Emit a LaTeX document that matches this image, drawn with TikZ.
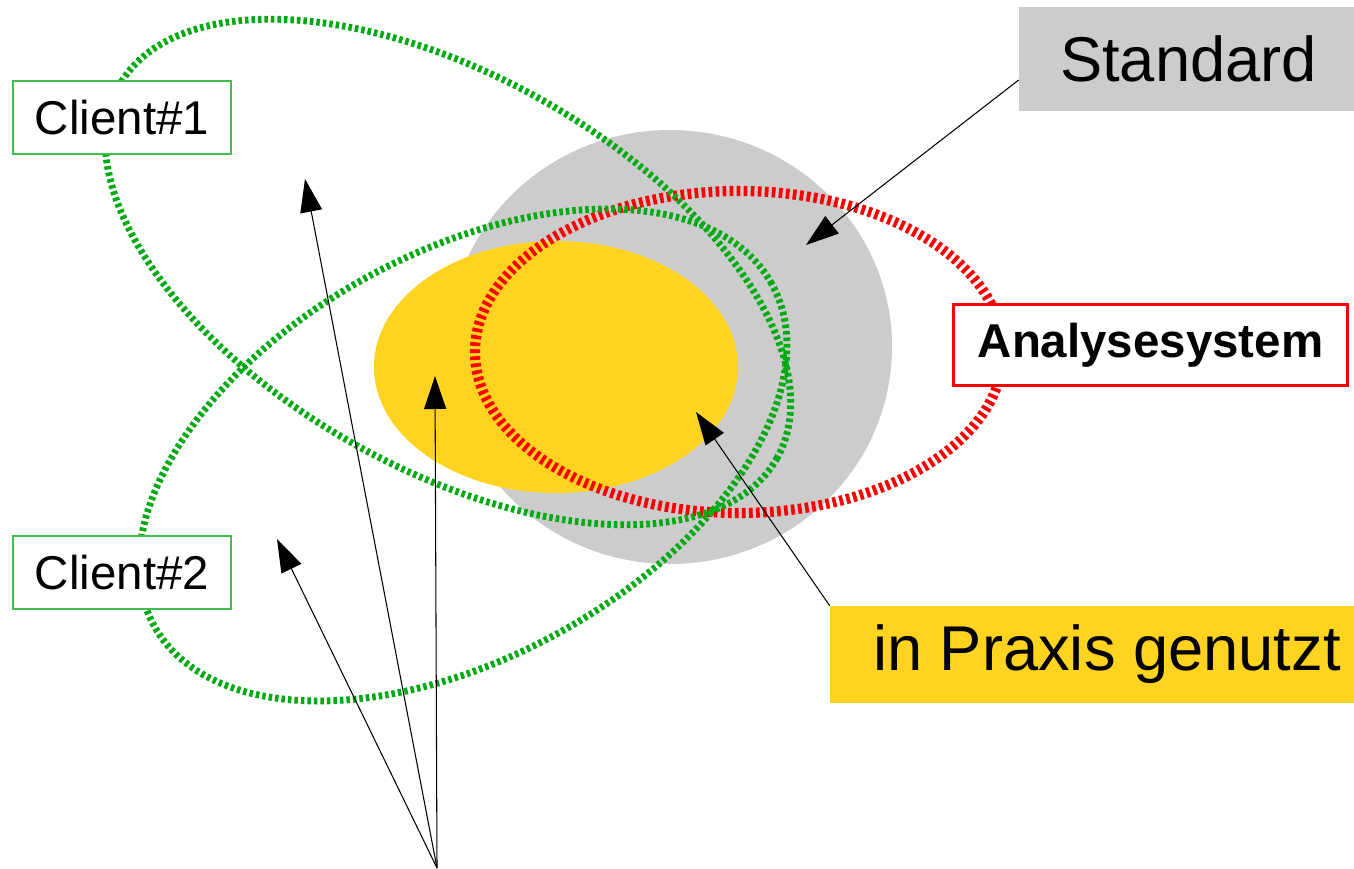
\documentclass[tikz,border=0pt]{standalone}
\usepackage{fontspec}
\setmainfont{Liberation Sans}
\usepackage{xcolor}
\usepackage{tikz}
\usetikzlibrary{arrows.meta}
\definecolor{venngraycol}{HTML}{CCCCCC}
\definecolor{vennyellowcol}{HTML}{FFD320}
\definecolor{venngreencol}{HTML}{00AA11}
\definecolor{vennredcol}{HTML}{FF0000}
\tikzset{
  vennpicture/.style={x=0.2mm, y=-0.2mm},
  vennclient/.style={draw=venngreencol!75, line width=0.6pt, fill=white, inner sep=0pt, minimum width=43.6mm, minimum height=14.6mm, font=\fontsize{27pt}{32pt}\selectfont},
  vennstandard/.style={fill=venngraycol, inner sep=0pt, minimum width=67.8mm, minimum height=20.8mm, font=\fontsize{36pt}{42pt}\selectfont},
  vennsystem/.style={draw=vennredcol, line width=1.7pt, fill=white, inner sep=0pt, minimum width=78.8mm, minimum height=16.2mm, font=\fontsize{27pt}{32pt}\selectfont\bfseries},
  vennpraxis/.style={fill=vennyellowcol, inner sep=0pt, minimum width=110.8mm, minimum height=19.4mm, font=\fontsize{36pt}{42pt}\selectfont},
  venngreen/.style={draw=venngreencol, line width=3.9pt, dash pattern=on 2pt off 1.7pt},
  vennred/.style={draw=vennredcol, line width=5.8pt, dash pattern=on 2.1pt off 1.9pt},
  vennarrow/.style={-{Triangle[length=6.6mm, width=4.4mm]}, line width=0.6pt}
}
\begin{document}
\begin{tikzpicture}[vennpicture]
\useasboundingbox (0,0) rectangle (1354,869);
\clip (0,0) rectangle (1354,869);
\fill[venngraycol] (670,347) ellipse [x radius=44.4mm, y radius=43.4mm];
\fill[vennyellowcol] (556,367) ellipse [x radius=36.4mm, y radius=25.2mm];
\draw[vennred] (739,352) ellipse [x radius=52.8mm, y radius=32.2mm];
\draw[venngreen, rotate around={-29.6:(448,272)}] (448,272) ellipse [x radius=75.6mm, y radius=39.2mm];
\draw[venngreen, rotate around={29:(463,455)}] (463,455) ellipse [x radius=70.6mm, y radius=40.4mm];
\node[vennclient] (client1) at (122,117.5) {Client\#1};
\node[vennclient] (client2) at (122,572.5) {Client\#2};
\node[vennstandard] (standard) at (1188.5,59) {Standard};
\node[vennsystem] (system) at (1150.5,345) {Analysesystem};
\node[vennpraxis] (praxis) at (1107,654.5) {in Praxis genutzt};
\coordinate (stdtip) at (806,245);
\coordinate (praxistip) at (696,412);
\coordinate (fan) at (437,868);
\coordinate (tipone) at (305,179);
\coordinate (tiptwo) at (435,376);
\coordinate (tipthree) at (277,539);
\draw[vennarrow] ([yshift=-4.2mm]standard.west) -- (stdtip);
\draw[vennarrow] (praxis.north west) -- (praxistip);
\draw[vennarrow] (fan) -- (tipone);
\draw[vennarrow] (fan) -- (tiptwo);
\draw[vennarrow] (fan) -- (tipthree);
\end{tikzpicture}
\end{document}
